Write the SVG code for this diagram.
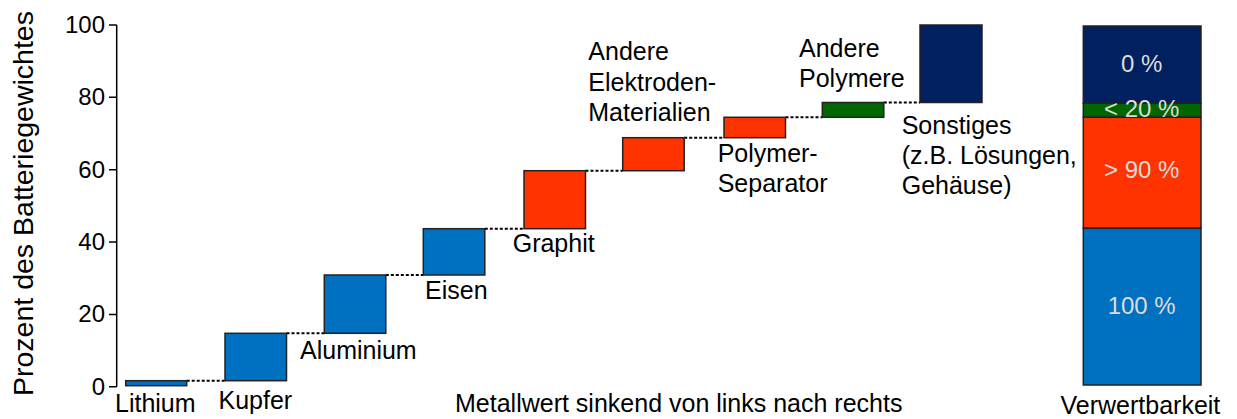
<svg xmlns="http://www.w3.org/2000/svg" width="1237" height="419" viewBox="0 0 1237 419">
<style>
text{font-family:"Liberation Sans",Arial,sans-serif;fill:#000}
.lbl{font-size:25px}
.tick{font-size:24px;text-anchor:end}
.in{font-size:24px;fill:#dcdcdc;text-anchor:middle}
.bar{stroke:#222;stroke-width:1.5}
.blue{fill:#0070C0}.red{fill:#FF3300}.green{fill:#006600}.navy{fill:#002060}
.dot{stroke:#000;stroke-width:2;stroke-dasharray:3 2;fill:none}
.ax{stroke:#000;stroke-width:1.5;fill:none}
</style>
<rect width="1237" height="419" fill="#fff"/>
<g id="axis">
<path class="ax" d="M116.7 25V386.7M109 25H116.7M109 97.3H116.7M109 169.7H116.7M109 242H116.7M109 314.4H116.7M109 386.7H116.7"/>
<text class="tick" x="105" y="33">100</text>
<text class="tick" x="105" y="105.3">80</text>
<text class="tick" x="105" y="177.7">60</text>
<text class="tick" x="105" y="250">40</text>
<text class="tick" x="105" y="322.4">20</text>
<text class="tick" x="105" y="394.7">0</text>
<text transform="translate(33.4,203.5) rotate(-90)" text-anchor="middle" style="font-size:28.5px">Prozent des Batteriegewichtes</text>
</g>
<g id="connectors">
<path class="dot" d="M186.7 380.7H225"/>
<path class="dot" d="M286.5 333.3H324.3"/>
<path class="dot" d="M385.8 275H423.3"/>
<path class="dot" d="M484.8 228.7H524"/>
<path class="dot" d="M585.5 170.7H622.7"/>
<path class="dot" d="M684.2 137.7H724"/>
<path class="dot" d="M785.5 117.3H822.3"/>
<path class="dot" d="M883.8 102.5H920"/>
</g>
<g id="lithium"><rect class="bar blue" x="125.7" y="380.7" width="61" height="5"/><text class="lbl" x="115" y="412">Lithium</text></g>
<g id="kupfer"><rect class="bar blue" x="225" y="333.3" width="61.5" height="47.4"/><text class="lbl" x="218.5" y="409">Kupfer</text></g>
<g id="aluminium"><rect class="bar blue" x="324.3" y="275" width="61.5" height="58.3"/><text class="lbl" x="300" y="358.5">Aluminium</text></g>
<g id="eisen"><rect class="bar blue" x="423.3" y="228.7" width="61.5" height="46.3"/><text class="lbl" x="425" y="299">Eisen</text></g>
<g id="graphit"><rect class="bar red" x="524" y="170.7" width="61.5" height="58"/><text class="lbl" x="512.7" y="252.3">Graphit</text></g>
<g id="elektroden"><rect class="bar red" x="622.7" y="137.7" width="61.5" height="33"/><text class="lbl" x="588.3" y="60">Andere</text><text class="lbl" x="588.3" y="90.5">Elektroden-</text><text class="lbl" x="588.3" y="120.7">Materialien</text></g>
<g id="separator"><rect class="bar red" x="724" y="117.3" width="61.5" height="20.4"/><text class="lbl" x="717.7" y="162.3">Polymer-</text><text class="lbl" x="717.7" y="192.3">Separator</text></g>
<g id="polymere"><rect class="bar green" x="822.3" y="102.5" width="61.5" height="14.8"/><text class="lbl" x="799" y="57.3">Andere</text><text class="lbl" x="799" y="87.3">Polymere</text></g>
<g id="sonstiges"><rect class="bar navy" x="920" y="25" width="62" height="77.5"/><text class="lbl" x="901.7" y="134">Sonstiges</text><text class="lbl" x="901.7" y="164.3">(z.B. Lösungen,</text><text class="lbl" x="901.7" y="194.3">Gehäuse)</text></g>
<g id="verwertbarkeit">
<rect class="bar navy" x="1083.3" y="26" width="117.7" height="77.3"/>
<rect class="bar green" x="1083.3" y="103.3" width="117.7" height="14"/>
<rect class="bar red" x="1083.3" y="117.3" width="117.7" height="111"/>
<rect class="bar blue" x="1083.3" y="228.3" width="117.7" height="156.7"/>
<text class="in" x="1141.7" y="71.7">0 %</text>
<text class="in" x="1141.7" y="117.3">&lt; 20 %</text>
<text class="in" x="1141.7" y="178.3">&gt; 90 %</text>
<text class="in" x="1141.7" y="314">100 %</text>
<text class="lbl" x="1060.5" y="414">Verwertbarkeit</text>
</g>
<text id="xlabel" class="lbl" x="455" y="412">Metallwert sinkend von links nach rechts</text>
</svg>
